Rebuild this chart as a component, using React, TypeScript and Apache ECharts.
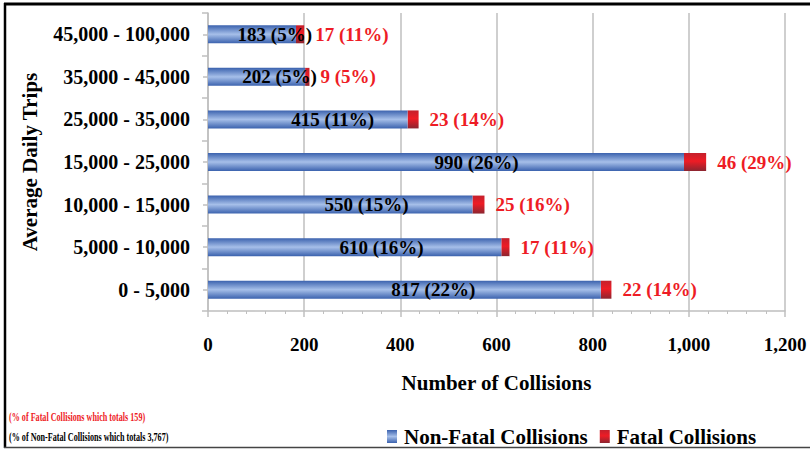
import React, { useEffect, useRef } from "react";
import * as echarts from "echarts";

const categories = [
  "0 - 5,000",
  "5,000 - 10,000",
  "10,000 - 15,000",
  "15,000 - 25,000",
  "25,000 - 35,000",
  "35,000 - 45,000",
  "45,000 - 100,000",
];
const nonFatal = [817, 610, 550, 990, 415, 202, 183];
const fatal = [22, 17, 25, 46, 23, 9, 17];
const nonFatalPct = [22, 16, 15, 26, 11, 5, 5];
const fatalPct = [14, 11, 16, 29, 14, 5, 11];
const xTicks = { min: 0, max: 1200, interval: 200 };

const SERIF = "'Liberation Serif', 'Times New Roman', serif";
const GRID = "#bfbfbf";

const fmt = (v: number) => String(v).replace(/\B(?=(\d{3})+(?!\d))/g, ",");

export default function App() {
  const ref = useRef<HTMLDivElement>(null);
  useEffect(() => {
    if (!ref.current) return;
    const chart = echarts.init(ref.current, null, { renderer: "svg" });
    const blue = new echarts.graphic.LinearGradient(0, 0, 0, 1, [
      { offset: 0, color: "#3b62ae" },
      { offset: 0.5, color: "#a6bfe9" },
      { offset: 1, color: "#3b62ae" },
    ]);
    const red = new echarts.graphic.LinearGradient(0, 0, 0, 1, [
      { offset: 0, color: "#c4202c" },
      { offset: 0.45, color: "#ee1c25" },
      { offset: 1, color: "#8c2530" },
    ]);
    chart.setOption({
      animation: false,
      backgroundColor: "#ffffff",
      grid: { left: 208, right: 25, top: 13, bottom: 138, containLabel: false },
      legend: {
        left: 387,
        top: 426,
        padding: 0,
        itemWidth: 10,
        itemHeight: 13,
        itemGap: 12,
        icon: "rect",
        data: ["Non-Fatal Collisions", "Fatal Collisions"],
        textStyle: { fontFamily: SERIF, fontSize: 21, fontWeight: "bold", color: "#000", padding: [0, 0, 0, 2] },
      },
      xAxis: {
        type: "value",
        min: xTicks.min,
        max: xTicks.max,
        interval: xTicks.interval,
        name: "Number of Collisions",
        nameLocation: "middle",
        nameGap: 61,
        nameTextStyle: { fontFamily: SERIF, fontSize: 21, fontWeight: "bold", color: "#000" },
        axisLine: { show: true, lineStyle: { color: GRID, width: 1.5 } },
        axisTick: { show: true, length: 6, lineStyle: { color: GRID, width: 1.5 } },
        minorTick: { show: true, splitNumber: 5, length: 3, lineStyle: { color: GRID, width: 1 } },
        splitLine: { show: true, lineStyle: { color: GRID, width: 1.5 } },
        axisLabel: {
          margin: 24,
          fontFamily: SERIF,
          fontSize: 19,
          fontWeight: "bold",
          color: "#000",
          align: "center",
          hideOverlap: false,
          formatter: (v: number) => fmt(v),
        },
      },
      yAxis: [
        {
          type: "category",
          data: categories,
          name: "Average Daily Trips",
          nameLocation: "middle",
          nameGap: 168,
          nameTextStyle: { fontFamily: SERIF, fontSize: 21, fontWeight: "bold", color: "#000" },
          axisLine: { show: true, lineStyle: { color: GRID, width: 1.5 } },
          axisTick: { show: true, length: 6, lineStyle: { color: GRID, width: 1.5 } },
          axisLabel: { margin: 18, fontFamily: SERIF, fontSize: 20, fontWeight: "bold", color: "#000" },
        },
        {
          type: "category",
          data: categories,
          position: "left",
          axisLine: { show: false },
          axisTick: { show: true, alignWithLabel: true, length: 5, lineStyle: { color: GRID, width: 1.5 } },
          axisLabel: { show: false },
          splitLine: { show: false },
        },
      ],
      series: [
        {
          name: "Non-Fatal Collisions",
          type: "bar",
          stack: "total",
          yAxisIndex: 0,
          barWidth: 18,
          data: nonFatal,
          itemStyle: { color: blue },
          label: {
            show: true,
            position: ["52%", "50%"],
            offset: [21, 0],
            align: "center",
            verticalAlign: "middle",
            fontFamily: SERIF,
            fontSize: 19,
            fontWeight: "bold",
            color: "#000",
            formatter: (p: any) => `${fmt(nonFatal[p.dataIndex])} (${nonFatalPct[p.dataIndex]}%)`,
          },
          z: 2,
        },
        {
          name: "Fatal Collisions",
          type: "bar",
          stack: "total",
          yAxisIndex: 0,
          barWidth: 18,
          data: fatal,
          itemStyle: { color: red },
          label: {
            show: true,
            position: "right",
            distance: 11,
            fontFamily: SERIF,
            fontSize: 19,
            fontWeight: "bold",
            color: "#ee1c25",
            formatter: (p: any) => `${fatal[p.dataIndex]} (${fatalPct[p.dataIndex]}%)`,
          },
          z: 1,
        },
      ],
      graphic: [
        { type: "line", shape: { x1: 4, y1: 4, x2: 812, y2: 4 }, style: { stroke: "#000", lineWidth: 3 } },
        { type: "line", shape: { x1: 5, y1: 3, x2: 5, y2: 448 }, style: { stroke: "#000", lineWidth: 2.5 } },
        { type: "line", shape: { x1: 4, y1: 447.5, x2: 812, y2: 447.5 }, style: { stroke: "#444", lineWidth: 1.5 } },
        {
          type: "text",
          x: 9,
          y: 410,
          scaleX: 0.65,
          style: {
            text: "(% of Fatal Collisions which totals 159)",
            font: `bold 12.5px ${SERIF}`,
            fill: "#ee1c25",
          },
        },
        {
          type: "text",
          x: 9,
          y: 430,
          scaleX: 0.65,
          style: {
            text: "(% of Non-Fatal Collisions which totals 3,767)",
            font: `bold 12.5px ${SERIF}`,
            fill: "#000",
          },
        },
      ],
    });
    return () => chart.dispose();
  }, []);
  return <div ref={ref} style={{ position: "absolute", left: 0, top: 0, width: 810, height: 449 }} />;
}
